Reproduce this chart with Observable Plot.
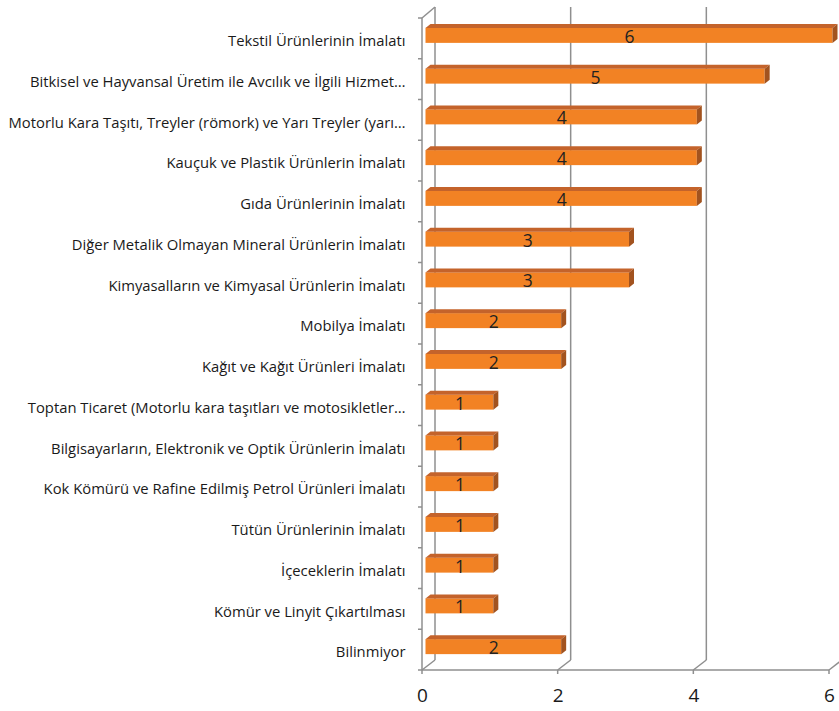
<!DOCTYPE html>
<html>
<head>
<meta charset="utf-8">
<script src="https://cdn.jsdelivr.net/npm/d3@7"></script>
<script src="https://cdn.jsdelivr.net/npm/@observablehq/plot@0.6"></script>
<style>
  html, body { margin: 0; padding: 0; background: #fff; }
  #chart { width: 839px; height: 711px; }
</style>
</head>
<body>
<div id="chart"></div>
<script>
const categories = [
  "Tekstil Ürünlerinin İmalatı",
  "Bitkisel ve Hayvansal Üretim ile Avcılık ve İlgili Hizmet…",
  "Motorlu Kara Taşıtı, Treyler (römork) ve Yarı Treyler (yarı…",
  "Kauçuk ve Plastik Ürünlerin İmalatı",
  "Gıda Ürünlerinin İmalatı",
  "Diğer Metalik Olmayan Mineral Ürünlerin İmalatı",
  "Kimyasalların ve Kimyasal Ürünlerin İmalatı",
  "Mobilya İmalatı",
  "Kağıt ve Kağıt Ürünleri İmalatı",
  "Toptan Ticaret (Motorlu kara taşıtları ve motosikletler…",
  "Bilgisayarların, Elektronik ve Optik Ürünlerin İmalatı",
  "Kok Kömürü ve Rafine Edilmiş Petrol Ürünleri İmalatı",
  "Tütün Ürünlerinin İmalatı",
  "İçeceklerin İmalatı",
  "Kömür ve Linyit Çıkartılması",
  "Bilinmiyor"
];
const values = [6, 5, 4, 4, 4, 3, 3, 2, 2, 1, 1, 1, 1, 1, 1, 2];
const xTicks = [0, 2, 4, 6];

const data = categories.map((c, i) => ({category: c, value: values[i]}));

const FRONT = "#F28224", TOP = "#C4632B", SIDE = "#A2531F", GRID = "#8f8f8f";
const BAR_H = 15, BAR_DX = 3.5, BAR_DY = -3, DEPTH_X = 5, DEPTH_Y = -4;
const WALL_X = 13, WALL_Y = -10;

function polygon(pts, fill) {
  const p = document.createElementNS("http://www.w3.org/2000/svg", "polygon");
  p.setAttribute("points", pts.map(d => d.join(",")).join(" "));
  p.setAttribute("fill", fill);
  return p;
}
function line(x1, y1, x2, y2) {
  const l = document.createElementNS("http://www.w3.org/2000/svg", "line");
  l.setAttribute("x1", x1); l.setAttribute("y1", y1);
  l.setAttribute("x2", x2); l.setAttribute("y2", y2);
  l.setAttribute("stroke", GRID); l.setAttribute("stroke-width", 1.5);
  return l;
}

// 3D frame: back gridlines, floor and left wall, drawn via the plot's scales
function frame3d(index, scales, values, dimensions) {
  const g = document.createElementNS("http://www.w3.org/2000/svg", "g");
  const {x, y} = scales;
  const top = dimensions.marginTop, bottom = dimensions.height - dimensions.marginBottom;
  const x0 = x(0);
  for (const t of xTicks) {
    const xt = x(t);
    g.appendChild(line(xt + WALL_X, top + WALL_Y - 1, xt + WALL_X, bottom + WALL_Y));
    g.appendChild(line(xt, bottom, xt + WALL_X, bottom + WALL_Y));
    g.appendChild(line(xt, bottom, xt, bottom + 4));
  }
  g.appendChild(line(x0, top, x0, bottom));
  g.appendChild(line(x0, top, x0 + WALL_X, top + WALL_Y - 1));
  g.appendChild(line(x0, bottom, x(xTicks[xTicks.length - 1]), bottom));
  const bw = y.bandwidth();
  for (let i = 0; i <= categories.length; i++) {
    const yy = i < categories.length ? y(categories[i]) : y(categories[i - 1]) + bw;
    g.appendChild(line(x0 - 4, yy, x0, yy));
  }
  return g;
}

// top and side faces of the 3D bars
function barFaces(index, scales, values, dimensions) {
  const g = document.createElementNS("http://www.w3.org/2000/svg", "g");
  const {x, y} = scales;
  const bw = y.bandwidth();
  for (const d of data) {
    const xa = x(0) + BAR_DX, xb = x(d.value) + BAR_DX;
    const yt = y(d.category) + bw / 2 + BAR_DY - BAR_H / 2;
    const yb = yt + BAR_H;
    g.appendChild(polygon([[xa, yt], [xa + DEPTH_X, yt + DEPTH_Y], [xb + DEPTH_X, yt + DEPTH_Y], [xb, yt]], TOP));
    g.appendChild(polygon([[xb, yt], [xb + DEPTH_X, yt + DEPTH_Y], [xb + DEPTH_X, yb + DEPTH_Y], [xb, yb]], SIDE));
  }
  return g;
}

const height = 711, marginTop = 18, marginBottom = 41;
const bandStep = (height - marginTop - marginBottom) / categories.length;
const inset = (bandStep - BAR_H) / 2;

const plot = Plot.plot({
  width: 839,
  height,
  marginLeft: 422,
  marginRight: 10,
  marginTop,
  marginBottom,
  style: {fontFamily: "'Open Sans', 'Liberation Sans', Arial, sans-serif", fontSize: "14.8px", color: "#1a1a1a", background: "#fff"},
  x: {domain: [0, 6], axis: null, round: false},
  y: {domain: categories, padding: 0, round: false, tickSize: 0, tickPadding: 17, label: null},
  marks: [
    frame3d,
    Plot.barX(data, {x: "value", y: "category", fill: FRONT, dx: BAR_DX, dy: BAR_DY, insetTop: inset, insetBottom: inset}),
    barFaces,
    Plot.text(data, {x: d => d.value / 2, y: "category", text: d => String(d.value), dx: BAR_DX, dy: BAR_DY + 1.5, fontSize: 17.5, fill: "#222"}),
    Plot.text(xTicks, {x: d => d, text: d => String(d), frameAnchor: "bottom", dy: 31, fontSize: 19, fill: "#1a1a1a"})
  ]
});

plot.querySelectorAll("[aria-label='y-axis'] text, [aria-label='y-axis tick label'] text").forEach(t => t.setAttribute("dy", "0.17em"));

document.getElementById("chart").appendChild(plot);
</script>
</body>
</html>
